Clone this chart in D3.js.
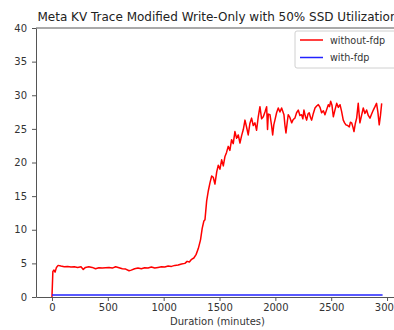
<!DOCTYPE html>
<html>
<head>
<meta charset="utf-8">
<script src="https://cdn.jsdelivr.net/npm/d3@7"></script>
<style>
  body { margin: 0; background: #fff; }
  svg { font-family: "DejaVu Sans", sans-serif; display: block; }
</style>
</head>
<body>
<div id="chart"></div>
<script>
// Data
const RED_MINUTES = [0, 8, 18, 28, 40, 55, 80, 110, 140, 170, 200, 230, 260, 280, 300, 330, 360, 390, 420, 450,
  480, 510, 540, 570, 600, 630, 660, 690, 710, 740, 770, 800, 830, 860, 890, 920, 950, 980, 1010, 1040,
  1070, 1100, 1130, 1160, 1190, 1210, 1230, 1250, 1270, 1290, 1310, 1330, 1345, 1360, 1370, 1385, 1400, 1415, 1430, 1444,
  1459, 1475, 1489, 1504, 1519, 1534, 1549, 1563, 1578, 1593, 1608, 1623, 1638, 1653, 1668, 1683, 1698, 1713, 1728, 1743,
  1757, 1772, 1787, 1802, 1817, 1832, 1847, 1862, 1877, 1892, 1907, 1922, 1930, 1937, 1952, 1966, 1976, 1986, 1996, 2011,
  2026, 2041, 2056, 2067, 2077, 2086, 2095, 2105, 2115, 2130, 2146, 2160, 2175, 2190, 2205, 2220, 2235, 2246, 2256, 2268,
  2280, 2292, 2303, 2315, 2325, 2340, 2355, 2370, 2385, 2400, 2414, 2430, 2444, 2460, 2474, 2485, 2495, 2507, 2519, 2535,
  2549, 2564, 2579, 2593, 2608, 2620, 2632, 2647, 2662, 2672, 2683, 2694, 2704, 2716, 2728, 2742, 2750, 2757, 2772, 2787,
  2802, 2817, 2832, 2847, 2862, 2877, 2892, 2906, 2918, 2930, 2941, 2952];
const RED_VALUES = [0, 3.8, 4.0, 3.7, 4.4, 4.7, 4.6, 4.5, 4.55, 4.45, 4.5, 4.4, 4.5, 4.1, 4.4, 4.5, 4.4, 4.2, 4.35, 4.3,
  4.35, 4.4, 4.3, 4.5, 4.35, 4.2, 4.15, 3.9, 4.0, 4.2, 4.3, 4.2, 4.35, 4.3, 4.45, 4.3, 4.4, 4.5, 4.45, 4.6,
  4.55, 4.7, 4.75, 4.9, 5.0, 5.3, 5.2, 5.6, 5.8, 6.3, 7.2, 8.5, 10.2, 11.3, 11.5, 14.3, 15.8, 17.0, 18.0, 17.8,
  16.8, 18.6, 19.6, 19.0, 20.4, 19.5, 20.9, 21.5, 22.4, 21.8, 23.4, 22.8, 24.6, 23.6, 24.1, 22.9, 24.0, 24.9, 26.3, 25.2,
  24.1, 25.8, 26.6, 25.5, 25.9, 24.8, 26.8, 28.3, 26.5, 26.8, 27.5, 28.3, 24.9, 27.2, 27.1, 25.5, 24.1, 25.6, 26.3, 27.4,
  28.1, 27.5, 28.1, 27.6, 27.1, 25.5, 24.4, 25.8, 27.1, 26.7, 25.9, 26.4, 26.6, 27.4, 27.8, 27.0, 27.1, 26.5, 27.8, 26.9,
  26.3, 27.2, 27.4, 26.7, 26.3, 27.3, 28.1, 28.4, 28.6, 28.2, 27.4, 27.7, 27.1, 27.9, 28.6, 28.3, 29.1, 28.5, 26.8, 27.9,
  28.8, 28.2, 28.6, 27.6, 26.3, 25.9, 25.6, 25.5, 25.3, 26.0, 25.9, 25.3, 24.6, 25.8, 26.6, 28.8, 27.2, 25.9, 27.0, 28.1,
  27.3, 27.8, 27.0, 26.6, 27.2, 27.8, 28.3, 28.8, 27.5, 25.6, 27.0, 28.8];
const BLUE_MINUTES = [0, 500, 1000, 1500, 2000, 2500, 2960];
const BLUE_VALUES = [0.3, 0.3, 0.3, 0.3, 0.3, 0.3, 0.3];
const X_TICKS = [0, 500, 1000, 1500, 2000, 2500, 3000];
const Y_TICKS = [0, 5, 10, 15, 20, 25, 30, 35, 40];
const SERIES_NAMES = ["without-fdp", "with-fdp"];
const SERIES_COLORS = ["#ff0000", "#2222ff"];

// Frame
const FRAME_WIDTH = 394;
const FRAME_HEIGHT = 330;
const MARGINS = {left: 36, right: -5, top: 28, bottom: 33};
const VIS_WIDTH = FRAME_WIDTH - MARGINS.left - MARGINS.right;
const VIS_HEIGHT = FRAME_HEIGHT - MARGINS.top - MARGINS.bottom;

const FRAME = d3.select("#chart")
  .append("svg")
    .attr("width", FRAME_WIDTH)
    .attr("height", FRAME_HEIGHT);

const X_SCALE = d3.scaleLinear()
  .domain([-143, 3107])
  .range([MARGINS.left, MARGINS.left + VIS_WIDTH]);

const Y_SCALE = d3.scaleLinear()
  .domain([0, 40])
  .range([MARGINS.top + VIS_HEIGHT, MARGINS.top]);

// Title
FRAME.append("text")
  .attr("x", MARGINS.left + VIS_WIDTH / 2)
  .attr("y", 21)
  .attr("text-anchor", "middle")
  .attr("font-size", "12px")
  .attr("fill", "#222")
  .text("Meta KV Trace Modified Write-Only with 50% SSD Utilization");

// Lines
const line = d3.line()
  .x((d) => X_SCALE(d[0]))
  .y((d) => Y_SCALE(d[1]));

const redData = RED_MINUTES.map((m, i) => [m, RED_VALUES[i]]);
const blueData = BLUE_MINUTES.map((m, i) => [m, BLUE_VALUES[i]]);

FRAME.append("path")
  .datum(redData)
  .attr("d", line)
  .attr("fill", "none")
  .attr("stroke", SERIES_COLORS[0])
  .attr("stroke-width", 1.5)
  .attr("stroke-linejoin", "round");

FRAME.append("path")
  .datum(blueData)
  .attr("d", line)
  .attr("fill", "none")
  .attr("stroke", SERIES_COLORS[1])
  .attr("stroke-width", 1.5);

// Axes
const xAxis = FRAME.append("g")
  .attr("transform", "translate(0," + (MARGINS.top + VIS_HEIGHT) + ")")
  .call(d3.axisBottom(X_SCALE).tickValues(X_TICKS).tickFormat(d3.format("d"))
    .tickSize(4).tickPadding(3).tickSizeOuter(0));

const yAxis = FRAME.append("g")
  .attr("transform", "translate(" + MARGINS.left + ",0)")
  .call(d3.axisLeft(Y_SCALE).tickValues(Y_TICKS).tickSize(4).tickPadding(5).tickSizeOuter(0));

[xAxis, yAxis].forEach((g) => {
  g.selectAll("text").attr("font-size", "10px").attr("fill", "#333")
    .attr("font-family", "DejaVu Sans, sans-serif");
  g.selectAll("line").attr("stroke", "#555");
  g.select(".domain").attr("stroke", "#555");
});

// top spine
FRAME.append("line")
  .attr("x1", MARGINS.left).attr("x2", MARGINS.left + VIS_WIDTH)
  .attr("y1", MARGINS.top).attr("y2", MARGINS.top)
  .attr("stroke", "#555");

// X label
FRAME.append("text")
  .attr("x", MARGINS.left + VIS_WIDTH / 2)
  .attr("y", 325)
  .attr("text-anchor", "middle")
  .attr("font-size", "10px")
  .attr("fill", "#333")
  .text("Duration (minutes)");

// Legend
const legend = FRAME.append("g").attr("transform", "translate(295,31)");
legend.append("rect")
  .attr("width", 104).attr("height", 37)
  .attr("rx", 2)
  .attr("fill", "#fff")
  .attr("stroke", "#d0d0d0");

SERIES_NAMES.forEach((name, i) => {
  legend.append("line")
    .attr("x1", 5).attr("x2", 28)
    .attr("y1", 9 + i * 17.5).attr("y2", 9 + i * 17.5)
    .attr("stroke", SERIES_COLORS[i])
    .attr("stroke-width", 1.5);
  legend.append("text")
    .attr("x", 35).attr("y", 12.5 + i * 17.5)
    .attr("font-size", "9.6px")
    .attr("fill", "#333")
    .text(name);
});
</script>
</body>
</html>
